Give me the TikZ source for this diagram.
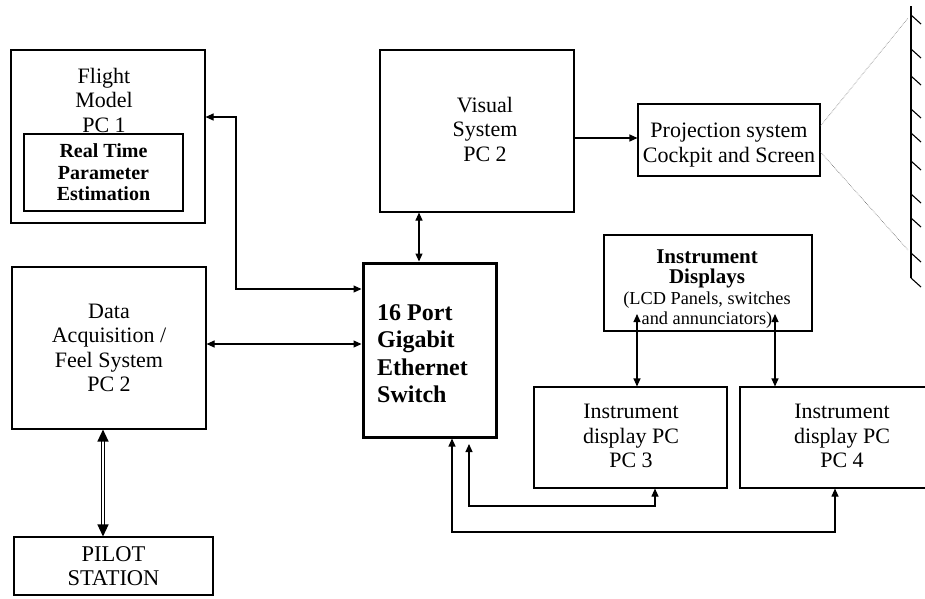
\documentclass[tikz,border=0pt]{standalone}
\usepackage{fontspec}
\setmainfont{Liberation Serif}
\usetikzlibrary{arrows.meta}
\begin{document}
\begin{tikzpicture}[x=1pt,y=-1pt,
  box/.style={draw, line width=1.1pt, inner sep=0pt},
  txt/.style={align=center, inner sep=0pt, font=\fontsize{22}{24.5}\selectfont},
  tip/.tip={Triangle[length=8pt,width=7pt]},
  conn/.style={line width=1.1pt, tip-tip},
  arr/.style={line width=1.1pt, -tip},
  dbl/.style={line width=1.3pt, double, double distance=2pt, {Triangle[length=12pt,width=11pt]}-{Triangle[length=12pt,width=11pt]}},
  ray/.style={densely dotted, line width=0.6pt, black!60}]
\useasboundingbox (0,0) rectangle (925,598);
\clip (0,0) rectangle (925,598);

% boxes
\node[box, minimum width=194pt, minimum height=173pt] (fm) at (108,136.5) {};
\node[txt] (fmt) at (104,100) {Flight\\Model\\PC 1};
\node[box, minimum width=159pt, minimum height=77pt, align=center,
      font=\fontsize{20}{21.5}\selectfont\bfseries] (rt) at (103.5,172.5) {Real Time\\Parameter\\Estimation};

\node[box, minimum width=194pt, minimum height=162pt] (vs) at (477,131) {};
\node[txt] (vst) at (485,129) {Visual\\System\\PC 2};

\node[box, minimum width=182pt, minimum height=72pt] (pj) at (729,140) {};
\node[txt] (pjt) at (729,145) {Projection system\\Cockpit and Screen};

\node[box, minimum width=194pt, minimum height=162pt, txt] (da) at (109,348) {Data\\Acquisition /\\Feel System\\PC 2};
\node[box, minimum width=199pt, minimum height=58pt] (ps) at (113.5,566) {};
\node[txt, font=\fontsize{22.5}{24.5}\selectfont] (pst) at (113.5,566) {PILOT\\STATION};

\node[draw, line width=3pt, minimum width=133pt, minimum height=174pt] (sw) at (429.5,350) {};
\node[anchor=west, align=left, inner sep=0pt, font=\fontsize{24}{27.5}\selectfont\bfseries] (swt) at (377,353.5) {16 Port\\Gigabit\\Ethernet\\Switch};

\node[box, minimum width=208pt, minimum height=96pt] (id) at (708,283) {};
\node[align=center, inner sep=0pt, font=\fontsize{18.3}{20.5}\selectfont] (idt) at (707,289)
  {{\fontsize{21}{22}\selectfont\bfseries Instrument}\\{\fontsize{21}{22}\selectfont\bfseries Displays}\\(LCD Panels, switches\\and annunciators)};

\node[box, minimum width=193pt, minimum height=101pt] (p3) at (630.5,437.5) {};
\node[txt] (p3t) at (631,436) {Instrument\\display PC\\PC 3};
\node[box, minimum width=206pt, minimum height=101pt] (p4) at (843,437.5) {};
\node[txt] (p4t) at (842,436) {Instrument\\display PC\\PC 4};

% connectors
\coordinate (a1) at (236,117);
\coordinate (a2) at (236,289);
\draw[conn] (fm.east |- a1) -- (a1) -- (a2) -- (sw.west |- a2);

\coordinate (b1) at (0,344);
\draw[conn] (da.east |- b1) -- (sw.west |- b1);

\coordinate (c1) at (419,0);
\draw[conn] (vs.south -| c1) -- (sw.north -| c1);

\coordinate (d1) at (0,138);
\draw[arr] (vs.east |- d1) -- (pj.west |- d1);

\coordinate (e1) at (637,314);
\draw[conn] (e1) -- (p3.north -| e1);
\coordinate (e2) at (775,314);
\draw[conn] (e2) -- (p4.north -| e2);

\coordinate (f1) at (469,444);
\coordinate (f2) at (469,506);
\coordinate (f3) at (655,506);
\draw[conn] (f1) -- (f2) -- (f3) -- (p3.south -| f3);

\coordinate (g1) at (452,532);
\coordinate (g2) at (835,532);
\draw[conn] (sw.south -| g1) -- (g1) -- (g2) -- (p4.south -| g2);

\coordinate (h1) at (103,0);
\draw[dbl] (da.south -| h1) -- (ps.north -| h1);

% screen
\coordinate (st) at (911,6);
\coordinate (sb) at (911,278);
\draw[line width=1.4pt] (st) -- (sb);
\foreach \y in {15,49,76,109,133,161,194,218,253,278}
  \draw[line width=1.1pt] (911,\y) -- ++(10,9);
\coordinate (r1) at (0,126);
\coordinate (r2) at (0,152);
\coordinate (s1) at (908,18);
\coordinate (s2) at (908,250);
\draw[ray] (pj.east |- r1) -- (s1);
\draw[ray] (pj.east |- r2) -- (s2);
\end{tikzpicture}
\end{document}
